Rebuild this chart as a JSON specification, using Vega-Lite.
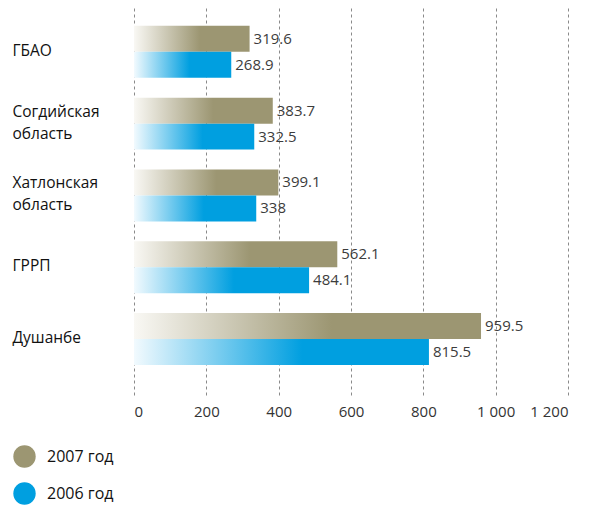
{
  "$schema": "https://vega.github.io/schema/vega-lite/v6.json",
  "width": 434,
  "height": 390,
  "autosize": "none",
  "padding": {"left": 134, "top": 5, "right": 27, "bottom": 113},
  "config": {"view": {"stroke": null}, "font": "Open Sans"},
  "data": {
    "values": [
      {"region": "ГБАО", "year": "2007 год", "value": 319.6},
      {"region": "ГБАО", "year": "2006 год", "value": 268.9},
      {"region": "Согдийская область", "year": "2007 год", "value": 383.7},
      {"region": "Согдийская область", "year": "2006 год", "value": 332.5},
      {"region": "Хатлонская область", "year": "2007 год", "value": 399.1},
      {"region": "Хатлонская область", "year": "2006 год", "value": 338},
      {"region": "ГРРП", "year": "2007 год", "value": 562.1},
      {"region": "ГРРП", "year": "2006 год", "value": 484.1},
      {"region": "Душанбе", "year": "2007 год", "value": 959.5},
      {"region": "Душанбе", "year": "2006 год", "value": 815.5}
    ]
  },
  "encoding": {
    "y": {
      "field": "region", "type": "nominal", "sort": null,
      "scale": {"paddingInner": 0.276, "paddingOuter": 0.354, "align": 0.41},
      "axis": {
        "title": null, "domain": false, "ticks": false, "tickSize": 0, "grid": false,
        "labelAlign": "left", "labelPadding": 122, "labelFontSize": 15.5, "labelColor": "#111111",
        "labelLineHeight": 22, "labelLimit": 200,
        "labelOffset": {"condition": {"test": "indexof(datum.value, ' ') > 0", "value": -12}, "value": -1},
        "labelExpr": "split(datum.value, ' ')"
      }
    },
    "yOffset": {"field": "year", "type": "nominal", "scale": {"domain": ["2007 год", "2006 год"], "paddingInner": 0, "paddingOuter": 0}},
    "x": {
      "field": "value", "type": "quantitative",
      "scale": {"domain": [0, 1200], "nice": false},
      "axis": {
        "title": null, "domain": false, "ticks": false, "values": [0, 200, 400, 600, 800, 1000, 1200],
        "grid": true, "gridDash": [3, 3], "gridColor": "#8a8a8a", "gridWidth": 1,
        "labelFontSize": 15, "labelColor": "#333333", "labelPadding": 9,
        "labelExpr": "replace(format(datum.value, ','), ',', ' ')"
      }
    }
  },
  "layer": [
    {
      "transform": [{"filter": "datum.year === '2007 год'"}],
      "mark": {"type": "bar", "color": {"gradient": "linear", "x1": 0, "x2": 1, "y1": 0, "y2": 0,
        "stops": [{"offset": 0, "color": "#f9f8f4"}, {"offset": 0.57, "color": "#9c9672"}, {"offset": 1, "color": "#9c9672"}]}}
    },
    {
      "transform": [{"filter": "datum.year === '2006 год'"}],
      "mark": {"type": "bar", "color": {"gradient": "linear", "x1": 0, "x2": 1, "y1": 0, "y2": 0,
        "stops": [{"offset": 0, "color": "#f2fafe"}, {"offset": 0.57, "color": "#009fe0"}, {"offset": 1, "color": "#009fe0"}]}}
    },
    {
      "mark": {"type": "text", "align": "left", "baseline": "middle", "dx": 4, "fontSize": 15, "color": "#3c3c3c"},
      "encoding": {"text": {"field": "value", "type": "nominal"}}
    },
    {
      "mark": {"type": "point", "shape": "circle", "filled": true, "opacity": 0},
      "encoding": {
        "color": {
          "field": "year", "type": "nominal",
          "scale": {"domain": ["2007 год", "2006 год"], "range": ["#9c9672", "#009fe0"]},
          "legend": {
            "title": null, "orient": "none", "legendX": -121, "legendY": 440,
            "symbolType": "circle", "symbolSize": 500, "symbolOpacity": 1, "symbolStrokeWidth": 0,
            "labelFontSize": 16, "labelColor": "#111111", "labelOffset": 11, "rowPadding": 14
          }
        }
      }
    }
  ]
}
